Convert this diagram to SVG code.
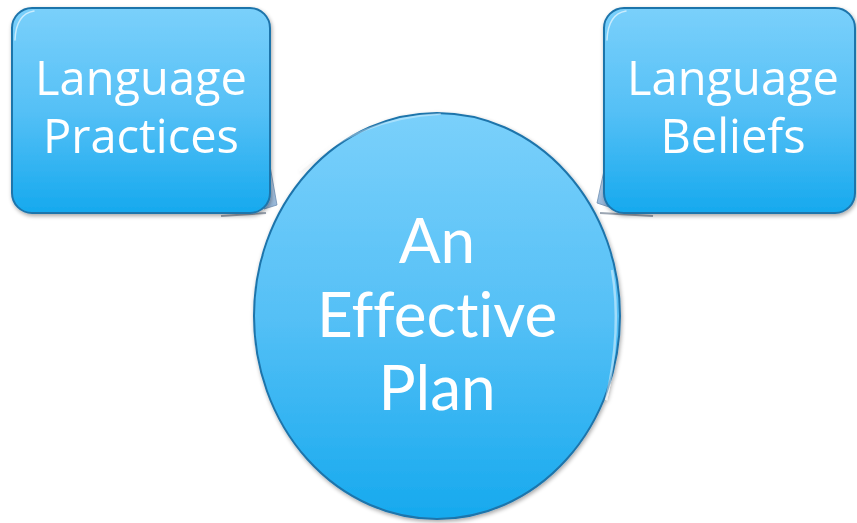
<svg xmlns="http://www.w3.org/2000/svg" width="857" height="523" viewBox="0 0 857 523">
  <defs>
    <linearGradient id="fillBlue" x1="0" y1="0" x2="0" y2="1">
      <stop offset="0" stop-color="#7ad0fb"/>
      <stop offset="0.5" stop-color="#55c0f6"/>
      <stop offset="1" stop-color="#16a9ee"/>
    </linearGradient>
    <linearGradient id="tabFill" x1="0" y1="0" x2="0" y2="1">
      <stop offset="0" stop-color="#c9dbee"/>
      <stop offset="1" stop-color="#92b3d6"/>
    </linearGradient>
    <linearGradient id="rimLight" x1="0" y1="0" x2="1" y2="0">
      <stop offset="0" stop-color="#ffffff" stop-opacity="0"/>
      <stop offset="1" stop-color="#ffffff" stop-opacity="0.55"/>
    </linearGradient>
    <filter id="shadow" x="-10%" y="-10%" width="120%" height="125%">
      <feGaussianBlur in="SourceAlpha" stdDeviation="2"/>
      <feOffset dx="1" dy="2" result="b"/>
      <feComponentTransfer><feFuncA type="linear" slope="0.35"/></feComponentTransfer>
      <feMerge><feMergeNode/><feMergeNode in="SourceGraphic"/></feMerge>
    </filter>
  </defs>
  <style>
    .shape { fill: url(#fillBlue); stroke: #1f74ab; stroke-width: 2; }
    .tab { fill: url(#tabFill); stroke: #6f8fb3; stroke-width: 0.8; }
    .tabShadow { fill: none; stroke: #5a6b80; stroke-width: 2; stroke-opacity: 0.6; }
    .gloss { fill: none; stroke: #ffffff; stroke-linecap: round; }
    .label { font-family: "Open Sans", "Liberation Sans", sans-serif; fill: #ffffff; text-anchor: middle; font-variant-ligatures: none; font-feature-settings: "liga" 0; }
    .boxLabel { font-size: 47px; }
    .circleLabel { font-family: Lato, "Open Sans", sans-serif; font-size: 62px; }
  </style>

  <!-- folded tabs joining the boxes to the circle -->
  <g id="connectors">
    <line class="tabShadow" x1="221" y1="216" x2="266" y2="213"/>
    <polygon class="tab" points="270,166 277,205 264,209"/>
    <line class="tabShadow" x1="600" y1="213" x2="653" y2="216"/>
    <polygon class="tab" points="605,166 597,203 612,208"/>
  </g>

  <!-- left box -->
  <g id="node-practices" filter="url(#shadow)">
    <rect class="shape" x="12" y="8" width="258" height="205" rx="20" ry="20"/>
    <path class="gloss" d="M15,40 Q16,14 34,11" stroke-width="1.5" stroke-opacity="0.6"/>
    <line x1="263" y1="30" x2="263" y2="192" stroke="url(#rimLight)" stroke-width="3" stroke-opacity="0.8"/>
    <text class="label boxLabel" x="141" y="95">Language</text>
    <text class="label boxLabel" x="141" y="153">Practices</text>
  </g>

  <!-- right box -->
  <g id="node-beliefs" filter="url(#shadow)">
    <rect class="shape" x="604" y="8" width="251" height="205" rx="20" ry="20"/>
    <path class="gloss" d="M607,40 Q608,14 626,11" stroke-width="1.5" stroke-opacity="0.6"/>
    <line x1="848" y1="30" x2="848" y2="192" stroke="url(#rimLight)" stroke-width="3" stroke-opacity="0.8"/>
    <text class="label boxLabel" x="733" y="95">Language</text>
    <text class="label boxLabel" x="733" y="153">Beliefs</text>
  </g>

  <!-- centre circle -->
  <g id="node-plan" filter="url(#shadow)">
    <ellipse class="shape" cx="437" cy="316" rx="183" ry="203"/>
    <path class="gloss" d="M300,170 Q360,118 440,114" stroke-width="2" stroke-opacity="0.35"/>
    <path d="M612,270 Q622,330 606,400" fill="none" stroke="#ffffff" stroke-width="2.5" stroke-opacity="0.45"/>
    <text class="label circleLabel" x="437" y="263">An</text>
    <text class="label circleLabel" x="437" y="337">Effective</text>
    <text class="label circleLabel" x="437" y="410">Plan</text>
  </g>
</svg>
